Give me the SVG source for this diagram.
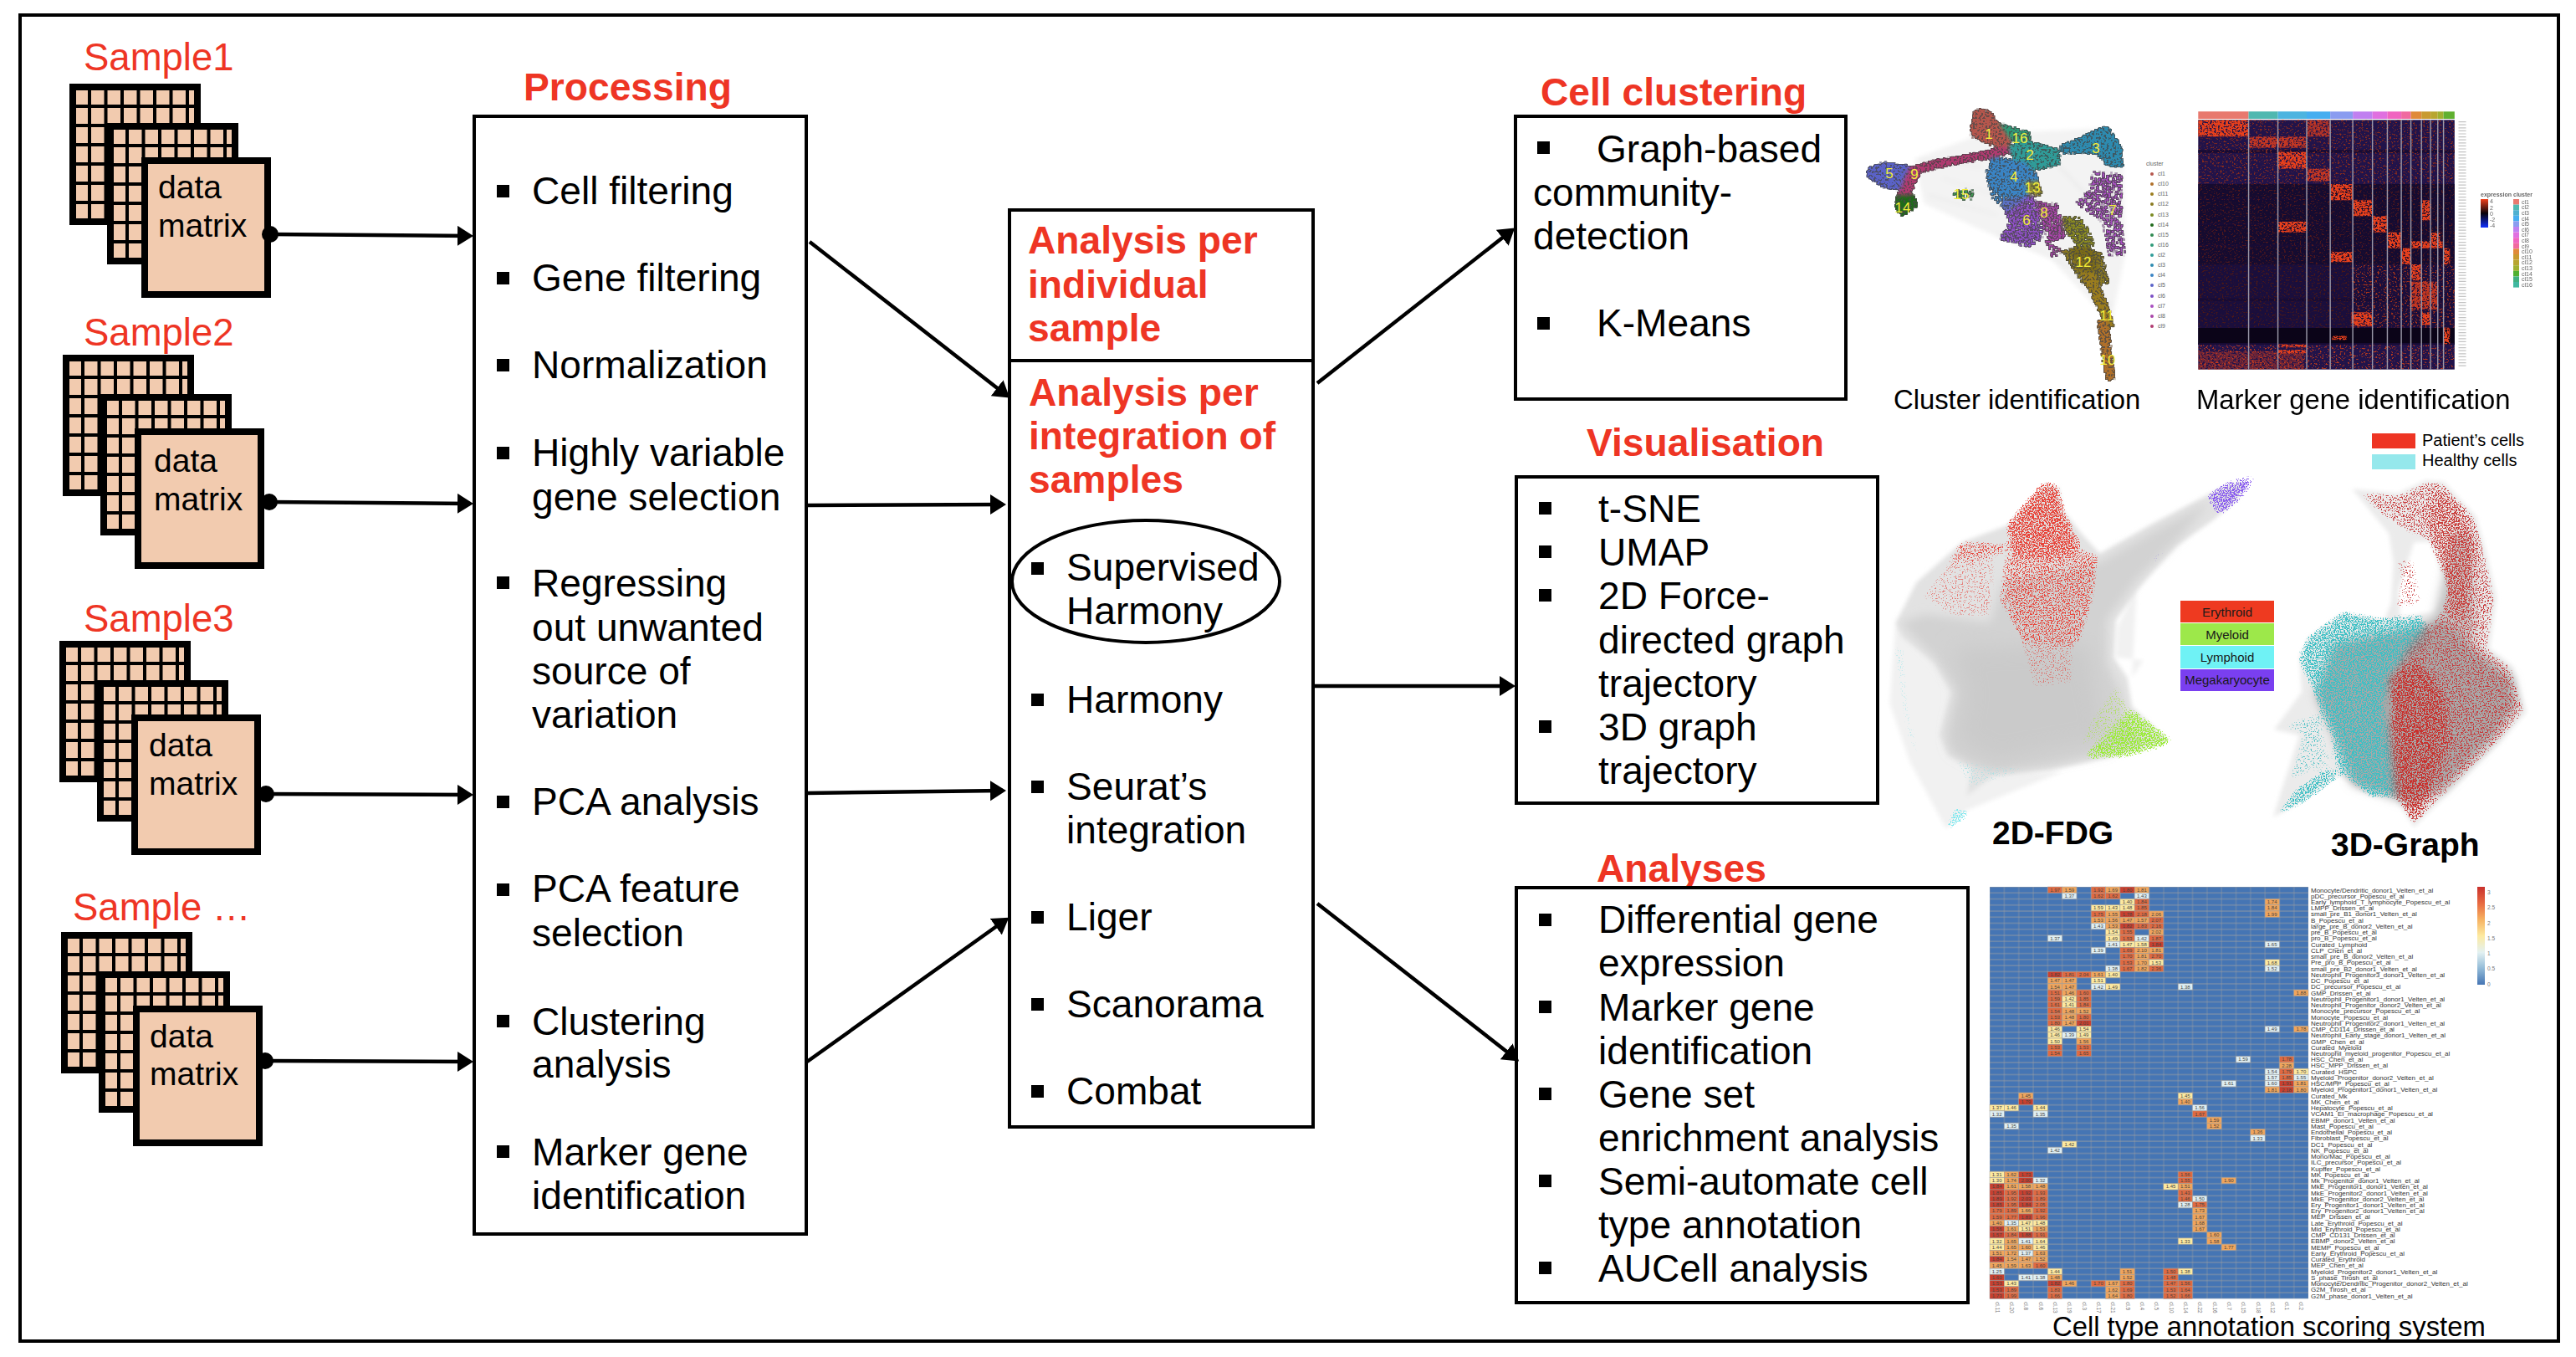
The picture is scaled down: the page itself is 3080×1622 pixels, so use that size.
<svg xmlns="http://www.w3.org/2000/svg" width="3080" height="1622" viewBox="0 0 3080 1622">
<style>
text{font-family:"Liberation Sans",Arial,sans-serif;fill:#000}
.t{font-size:46.1px}
.d{font-size:39px}
.s{font-size:45.5px;fill:#ee3524}
.h{font-size:46.2px;font-weight:bold;fill:#ee3524}
.cap{font-size:32.8px}
.box{fill:#fff;stroke:#000;stroke-width:4}
.b{width:15px;height:15px;fill:#000}
.pk{fill:#f2cbaf;stroke:#000;stroke-width:8}
.ln{fill:none;stroke:#000;stroke-width:4}
.c{stroke:#000;stroke-width:4.5;fill:none}
.bd{font-size:39px;font-weight:bold}
.lg{font-size:15px;text-anchor:middle;fill:#1a1a1a}
.cll{font-size:7px;fill:#666}
.yl{font-size:17px;fill:#f4ee3c;text-anchor:middle}
#hm rect{y:-5.7px;width:17.32px;height:7.24px;stroke:#a0a0a0;stroke-width:.5}
#hm text{font-size:6px;text-anchor:middle;fill:#444}
.r{fill:#c9402f}.o{fill:#e06a41}.a{fill:#f0a55c}.y{fill:#fde9a0}.p{fill:#dfeef2}
.rl{font-size:8px;fill:#333}
.cl{font-size:6.5px;fill:#777}
</style>
<defs>
<marker id="ah" markerUnits="userSpaceOnUse" markerWidth="24" markerHeight="26" refX="15" refY="12" orient="auto"><path d="M0 0L19 12L0 24Z" fill="#000"/></marker>
<g id="pn"><rect class="pk" x="4" y="4" width="149" height="161"/><path d="M24 4V165M43.500 4V165M63 4V165M82.500 4V165M102 4V165M121.500 4V165M141 4V165M4 27H153M4 50H153M4 73H153M4 96H153M4 119H153M4 142H153" fill="none" stroke="#000" stroke-width="4"/></g>
<g id="mx"><use href="#pn"/><use href="#pn" x="45" y="47"/><rect class="pk" x="90" y="92" width="147" height="160"/></g>
<filter id="sp" x="0" y="0" width="100%" height="100%" color-interpolation-filters="sRGB"><feTurbulence type="fractalNoise" baseFrequency=".42 .55" numOctaves="2" seed="5"/><feColorMatrix values="0 0 0 0 0 0 0 0 0 0 0 0 0 0 0 0 0 0 8 -4.6" result="m"/><feComposite in="SourceGraphic" in2="m" operator="in"/><feGaussianBlur stdDeviation=".55"/></filter>
<filter id="dn" x="0" y="0" width="100%" height="100%" color-interpolation-filters="sRGB"><feTurbulence type="fractalNoise" baseFrequency=".42 .55" numOctaves="2" seed="9"/><feColorMatrix values="0 0 0 0 0 0 0 0 0 0 0 0 0 0 0 0 0 0 8 -3" result="m"/><feComposite in="SourceGraphic" in2="m" operator="in"/><feGaussianBlur stdDeviation=".55"/></filter>
<filter id="sf" x="-3%" y="-3%" width="106%" height="106%" color-interpolation-filters="sRGB"><feGaussianBlur in="SourceGraphic" stdDeviation="5" result="bl"/><feTurbulence type="fractalNoise" baseFrequency=".65" numOctaves="2" seed="7"/><feColorMatrix values="0 0 0 0 1 0 0 0 0 1 0 0 0 0 1 0 0 0 3 -1" result="n"/><feComposite in="bl" in2="n" operator="arithmetic" k1="1"/><feColorMatrix values="1 0 0 0 0 0 1 0 0 0 0 0 1 0 0 0 0 0 10 -3.5"/><feGaussianBlur stdDeviation=".55"/></filter>
<filter id="cf" x="-3%" y="-3%" width="106%" height="106%" color-interpolation-filters="sRGB"><feGaussianBlur in="SourceGraphic" stdDeviation="2.2" result="bl"/><feTurbulence type="fractalNoise" baseFrequency=".42" numOctaves="1" seed="4"/><feColorMatrix values="0 0 0 0 1 0 0 0 0 1 0 0 0 0 1 0 0 0 3 -1" result="n"/><feComposite in="bl" in2="n" operator="arithmetic" k1="1"/><feColorMatrix values="1 0 0 0 0 0 1 0 0 0 0 0 1 0 0 0 0 0 12 -3.4" result="k"/><feMorphology in="k" operator="dilate" radius=".6"/><feColorMatrix values=".35 0 0 0 0 0 .35 0 0 0 0 0 .35 0 0 0 0 0 .8 0" result="o"/><feMerge result="g"><feMergeNode in="o"/><feMergeNode in="k"/></feMerge><feGaussianBlur in="g" stdDeviation=".5"/></filter>
<filter id="g1" x="-5%" y="-5%" width="110%" height="110%"><feGaussianBlur stdDeviation="2.500"/></filter>
<filter id="g2" x="-8%" y="-8%" width="116%" height="116%"><feGaussianBlur stdDeviation="6"/></filter>
<filter id="g3" x="-12%" y="-12%" width="124%" height="124%"><feGaussianBlur stdDeviation="12"/></filter>
<linearGradient id="hc" x1="0" y1="0" x2="0" y2="1"><stop offset="0" stop-color="#c9302c"/><stop offset=".17" stop-color="#e86a41"/><stop offset=".33" stop-color="#f6b060"/><stop offset=".5" stop-color="#fdeaa0"/><stop offset=".67" stop-color="#e3f1f2"/><stop offset=".83" stop-color="#94bcd8"/><stop offset="1" stop-color="#4575b4"/></linearGradient>
<linearGradient id="ex" x1="0" y1="0" x2="0" y2="1"><stop offset="0" stop-color="#f0401c"/><stop offset=".5" stop-color="#080208"/><stop offset="1" stop-color="#1030ff"/></linearGradient>
<pattern id="hp" patternUnits="userSpaceOnUse" x="2379" y="1060" width="17.32" height="7.24"><rect width="17.32" height="7.24" fill="#a0a0a0"/><rect x=".3" y=".4" width="16.800" height="6.500" fill="#4575b4"/></pattern>
</defs>
<rect width="3080" height="1622" fill="#fff"/>
<rect id="frame" x="24" y="18" width="3035" height="1585" fill="#fff" stroke="#000" stroke-width="4"/>

<g id="sample1"><text class="s" x="100" y="84">Sample1</text><use href="#mx" x="83" y="100"/><text class="d" x="189" y="237">data</text><text class="d" x="189" y="283">matrix</text></g>
<g id="sample2"><text class="s" x="100" y="413">Sample2</text><use href="#mx" x="75" y="424"/><text class="d" x="184" y="564">data</text><text class="d" x="184" y="610">matrix</text></g>
<g id="sample3"><text class="s" x="100" y="755">Sample3</text><use href="#mx" x="71" y="766"/><text class="d" x="178" y="904">data</text><text class="d" x="178" y="950">matrix</text></g>
<g id="sample4"><text class="s" x="87" y="1100">Sample …</text><use href="#mx" x="73" y="1114"/><text class="d" x="179" y="1252">data</text><text class="d" x="179" y="1297">matrix</text></g>

<g id="processing">
<text class="h" x="626" y="120">Processing</text>
<rect class="box" x="567" y="139" width="397" height="1336"/>
<rect class="b" x="594" y="221"/><text class="t" x="636" y="244">Cell filtering</text>
<rect class="b" x="594" y="325"/><text class="t" x="636" y="348">Gene filtering</text>
<rect class="b" x="594" y="429"/><text class="t" x="636" y="452">Normalization</text>
<rect class="b" x="594" y="534"/><text class="t" x="636" y="557">Highly variable</text><text class="t" x="636" y="610">gene selection</text>
<rect class="b" x="594" y="689"/><text class="t" x="636" y="713">Regressing</text><text class="t" x="636" y="766">out unwanted</text><text class="t" x="636" y="818">source of</text><text class="t" x="636" y="870">variation</text>
<rect class="b" x="594" y="951"/><text class="t" x="636" y="974">PCA analysis</text>
<rect class="b" x="594" y="1056"/><text class="t" x="636" y="1078">PCA feature</text><text class="t" x="636" y="1131">selection</text>
<rect class="b" x="594" y="1213"/><text class="t" x="636" y="1237">Clustering</text><text class="t" x="636" y="1288">analysis</text>
<rect class="b" x="594" y="1369"/><text class="t" x="636" y="1393">Marker gene</text><text class="t" x="636" y="1445">identification</text>
</g>

<g id="analysis">
<rect class="box" x="1207" y="251" width="363" height="1096"/>
<path class="ln" d="M1207 431H1570"/>
<text class="h" x="1229" y="303">Analysis per</text><text class="h" x="1229" y="356">individual</text><text class="h" x="1229" y="408">sample</text>
<text class="h" x="1230" y="485">Analysis per</text><text class="h" x="1230" y="537">integration of</text><text class="h" x="1230" y="589">samples</text>
<ellipse cx="1370" cy="695" rx="160" ry="73" fill="none" stroke="#000" stroke-width="4"/>
<rect class="b" x="1233" y="672"/><text class="t" x="1275" y="694">Supervised</text><text class="t" x="1275" y="746">Harmony</text>
<rect class="b" x="1233" y="829"/><text class="t" x="1275" y="852">Harmony</text>
<rect class="b" x="1233" y="933"/><text class="t" x="1275" y="956">Seurat’s</text><text class="t" x="1275" y="1008">integration</text>
<rect class="b" x="1233" y="1089"/><text class="t" x="1275" y="1112">Liger</text>
<rect class="b" x="1233" y="1193"/><text class="t" x="1275" y="1216">Scanorama</text>
<rect class="b" x="1233" y="1297"/><text class="t" x="1275" y="1320">Combat</text>
</g>

<g id="clustering">
<text class="h" x="1842" y="126">Cell clustering</text>
<rect class="box" x="1812" y="139" width="395" height="338"/>
<rect class="b" x="1838" y="169"/><text class="t" x="1909" y="194">Graph-based</text><text class="t" x="1833" y="246">community-</text><text class="t" x="1833" y="298">detection</text>
<rect class="b" x="1838" y="379"/><text class="t" x="1909" y="402">K-Means</text>
</g>
<g id="visualisation">
<text class="h" x="1897" y="545">Visualisation</text>
<rect class="box" x="1813" y="570" width="432" height="390"/>
<rect class="b" x="1840" y="600"/><text class="t" x="1911" y="624">t-SNE</text>
<rect class="b" x="1840" y="652"/><text class="t" x="1911" y="676">UMAP</text>
<rect class="b" x="1840" y="704"/><text class="t" x="1911" y="728">2D Force-</text><text class="t" x="1911" y="781">directed graph</text><text class="t" x="1911" y="833">trajectory</text>
<rect class="b" x="1840" y="861"/><text class="t" x="1911" y="885">3D graph</text><text class="t" x="1911" y="937">trajectory</text>
</g>
<g id="analyses">
<text class="h" x="1909" y="1054">Analyses</text>
<rect class="box" x="1813" y="1061" width="540" height="496"/>
<rect class="b" x="1840" y="1092"/><text class="t" x="1911" y="1115">Differential gene</text><text class="t" x="1911" y="1167">expression</text>
<rect class="b" x="1840" y="1196"/><text class="t" x="1911" y="1220">Marker gene</text><text class="t" x="1911" y="1272">identification</text>
<rect class="b" x="1840" y="1300"/><text class="t" x="1911" y="1324">Gene set</text><text class="t" x="1911" y="1376">enrichment analysis</text>
<rect class="b" x="1840" y="1404"/><text class="t" x="1911" y="1428">Semi-automate cell</text><text class="t" x="1911" y="1480">type annotation</text>
<rect class="b" x="1840" y="1508"/><text class="t" x="1911" y="1532">AUCell analysis</text>
</g>

<g id="connectors">
<circle cx="323" cy="280" r="10"/><path class="c" marker-end="url(#ah)" d="M323 280L562 282"/>
<circle cx="322" cy="600" r="10"/><path class="c" marker-end="url(#ah)" d="M322 600L562 602"/>
<circle cx="318" cy="949" r="10"/><path class="c" marker-end="url(#ah)" d="M318 949L562 950"/>
<circle cx="317" cy="1268" r="10"/><path class="c" marker-end="url(#ah)" d="M317 1268L562 1269"/>
<path class="c" marker-end="url(#ah)" d="M968 289L1204 473"/>
<path class="c" marker-end="url(#ah)" d="M965 604L1199 603"/>
<path class="c" marker-end="url(#ah)" d="M965 948L1199 945"/>
<path class="c" marker-end="url(#ah)" d="M965 1269L1203 1099"/>
<path class="c" marker-end="url(#ah)" d="M1575 458L1808 275"/>
<path class="c" marker-end="url(#ah)" d="M1571 820L1808 820"/>
<path class="c" marker-end="url(#ah)" d="M1575 1080L1813 1266"/>
</g>

<g id="cluster-plot">
<g filter="url(#g1)"><g transform="translate(2180,100) scale(.574,.3333)"><path d="M190 270L330 180L590 160L625 300L630 600L600 860L470 620L350 540L210 430Z" fill="#f3f3f3"/><path d="M200 270L330 300M220 400L360 470M250 340L360 400M460 240L560 420M500 600L600 800M590 300L610 620M360 540L520 660" stroke="#e4e4e4" stroke-width="3" fill="none"/></g></g>
<g filter="url(#cf)"><g transform="translate(2180,100) scale(.574,.3333)">
<g fill-opacity=".6"><path fill="#8f50c8" d="M365 560L385 500L370 420L440 400L460 550L430 590Z"/><path fill="#a845a8" d="M440 420L490 430L505 560L470 570Z"/><path fill="#8a8a20" d="M500 470L540 480L570 580L530 590L500 520Z"/><path fill="#8a7a20" d="M490 590L580 600L600 720L540 720Z"/></g>
<g fill-opacity=".46"><path fill="#a84fc0" d="M560 310L625 320L625 500L632 620L590 620L580 500L520 430L550 380Z"/><path fill="#3c9a50" d="M260 380L320 370L310 430L270 410Z"/><path fill="#3a84c4" d="M335 300L430 400L385 460L350 420Z"/><path fill="#a845a8" d="M450 550L500 590L480 640Z"/></g>
<path fill="#b5564c" d="M315 95Q335 85 350 105L390 205L385 235L340 215L305 185Z"/><path fill="#2f9a78" d="M365 140L430 175L430 215L395 210Z"/><path fill="#2f9c98" d="M385 225L420 205L490 235L495 290L440 310L400 280Z"/><path fill="#2d8bb0" d="M490 225L540 190L590 150L620 220L625 300L590 290L570 250L500 250Z"/><path fill="#3a84c4" d="M345 310L350 265L420 280L450 340L420 400L370 400L345 360Z"/><path fill="#5a62c8" d="M88 330Q95 285 130 283L180 295L190 355L165 380L130 375Z"/><path fill="none" stroke="#b03a70" stroke-width="26" d="M165 420Q175 370 190 310Q240 285 290 270Q340 260 385 235"/><path fill="#1f6a1a" d="M155 400L190 400L195 440L165 475L150 450Z"/><path fill="#8f8a30" d="M420 350L450 350L455 400L430 400Z"/><path fill="#7a6a18" d="M515 590L560 590L570 660L545 700Z"/><path fill="#9b7d1e" d="M535 670L565 680L600 830L605 875L590 875L570 800Z"/><path fill="#b0702a" d="M572 850L592 850L607 1065L588 1065Z"/>
</g></g>
<text class="yl" x="2378" y="166">1</text><text class="yl" x="2415" y="171">16</text><text class="yl" x="2427" y="191">2</text><text class="yl" x="2506" y="183">3</text><text class="yl" x="2259" y="213">5</text><text class="yl" x="2289" y="214">9</text><text class="yl" x="2408" y="217">4</text><text class="yl" x="2430" y="230">13</text><text class="yl" x="2345" y="238">15</text><text class="yl" x="2275" y="254">14</text><text class="yl" x="2444" y="260">8</text><text class="yl" x="2526" y="257">7</text><text class="yl" x="2423" y="269">6</text><text class="yl" x="2491" y="319">12</text><text class="yl" x="2519" y="383">11</text><text class="yl" x="2520" y="436">10</text>
<text class="cll" x="2566" y="198">cluster</text>
<g><circle cx="2573" cy="208" r="2" fill="#b5564c"/><text class="cll" x="2580" y="210">cl1</text><circle cx="2573" cy="220" r="2" fill="#b0702a"/><text class="cll" x="2580" y="222">cl10</text><circle cx="2573" cy="232" r="2" fill="#9b7d1e"/><text class="cll" x="2580" y="234">cl11</text><circle cx="2573" cy="244" r="2" fill="#8a7a20"/><text class="cll" x="2580" y="246">cl12</text><circle cx="2573" cy="257" r="2" fill="#7a8a20"/><text class="cll" x="2580" y="259">cl13</text><circle cx="2573" cy="269" r="2" fill="#1f6a1a"/><text class="cll" x="2580" y="271">cl14</text><circle cx="2573" cy="281" r="2" fill="#2f8a50"/><text class="cll" x="2580" y="283">cl15</text><circle cx="2573" cy="293" r="2" fill="#2f9a78"/><text class="cll" x="2580" y="295">cl16</text><circle cx="2573" cy="305" r="2" fill="#2f9c98"/><text class="cll" x="2580" y="307">cl2</text><circle cx="2573" cy="317" r="2" fill="#2d8bb0"/><text class="cll" x="2580" y="319">cl3</text><circle cx="2573" cy="329" r="2" fill="#3a84c4"/><text class="cll" x="2580" y="331">cl4</text><circle cx="2573" cy="341" r="2" fill="#5a62c8"/><text class="cll" x="2580" y="343">cl5</text><circle cx="2573" cy="354" r="2" fill="#7a4fc4"/><text class="cll" x="2580" y="356">cl6</text><circle cx="2573" cy="366" r="2" fill="#a84fc0"/><text class="cll" x="2580" y="368">cl7</text><circle cx="2573" cy="378" r="2" fill="#a845a8"/><text class="cll" x="2580" y="380">cl8</text><circle cx="2573" cy="390" r="2" fill="#b03a70"/><text class="cll" x="2580" y="392">cl9</text></g>
<text class="cap" x="2264" y="489">Cluster identification</text>
</g>

<g id="marker-heatmap">
<g transform="translate(2180,100) scale(.574,.3333)">
<rect x="781" y="130" width="534" height="895" fill="#21134a"/>
<rect x="781" y="360" width="534" height="290" fill="#150b30"/>
<rect x="781" y="650" width="534" height="225" fill="#1a0e3c"/>
<rect x="781" y="876" width="534" height="60" fill="#0b0418"/>
<path fill="#170b34" d="M781 238h534v10H781zM781 410h534v8H781zM781 498h534v10H781zM781 575h534v10H781zM781 770h534v10H781zM781 930h534v6H781z"/>
<path fill="#e8796e" d="M781 100h105v26h-105z"/><path fill="#4fb8b0" d="M886 100h61v26h-61z"/><path fill="#4db4e0" d="M947 100h60v26h-60z"/><path fill="#46aef0" d="M1007 100h49v26h-49z"/><path fill="#8a9cf0" d="M1056 100h47v26h-47z"/><path fill="#c080f0" d="M1103 100h41v26h-41z"/><path fill="#e070e0" d="M1144 100h31v26h-31z"/><path fill="#f065c0" d="M1175 100h29v26h-29z"/><path fill="#f06aa0" d="M1204 100h20v26h-20z"/><path fill="#e08a3a" d="M1224 100h22v26h-22z"/><path fill="#c89a30" d="M1246 100h19v26h-19z"/><path fill="#b8a530" d="M1265 100h15v26h-15z"/><path fill="#a0b030" d="M1280 100h12v26h-12z"/><path fill="#60b030" d="M1292 100h23v26h-23z"/>
</g>
<g filter="url(#sp)"><g transform="translate(2180,100) scale(.574,.3333)">
<rect x="781" y="130" width="534" height="230" fill="#8a2c1c"/><rect x="781" y="360" width="534" height="290" fill="#52181c"/><rect x="1100" y="650" width="215" height="225" fill="#a83418"/><rect x="781" y="650" width="319" height="225" fill="#4a1818"/><rect x="781" y="936" width="534" height="89" fill="#b83a1c"/>
</g></g>
<g filter="url(#dn)"><g transform="translate(2180,100) scale(.574,.3333)" fill="#e8401c">
<rect x="781" y="130" width="105" height="60"/><rect x="886" y="190" width="120" height="40" opacity=".8"/><rect x="1007" y="130" width="49" height="60" opacity=".7"/><rect x="947" y="245" width="60" height="60"/><rect x="1007" y="305" width="49" height="45" opacity=".8"/><rect x="1056" y="360" width="47" height="58"/><rect x="1103" y="418" width="41" height="57"/><rect x="1144" y="475" width="31" height="58"/><rect x="1175" y="533" width="29" height="57"/><rect x="1204" y="590" width="20" height="58"/><rect x="1056" y="603" width="47" height="37"/><rect x="947" y="495" width="60" height="38"/><rect x="1224" y="648" width="22" height="57"/><rect x="1246" y="418" width="19" height="72"/><rect x="1224" y="565" width="66" height="25"/><rect x="1265" y="535" width="20" height="30"/><rect x="1292" y="590" width="13" height="58"/><rect x="1224" y="710" width="56" height="100" opacity=".8"/><rect x="1100" y="820" width="44" height="50"/><rect x="1246" y="820" width="19" height="45"/><rect x="1292" y="876" width="13" height="58"/><rect x="947" y="935" width="60" height="10"/><rect x="947" y="955" width="60" height="13"/><rect x="781" y="960" width="220" height="65" opacity=".4"/><rect x="1060" y="905" width="30" height="14"/>
</g></g>
<g transform="translate(2180,100) scale(.574,.3333)"><path d="M886 130V1025M947 130V1025M1007 130V1025M1056 130V1025M1103 130V1025M1144 130V1025M1175 130V1025M1204 130V1025M1224 130V1025M1246 130V1025M1265 130V1025M1280 130V1025M1292 130V1025" stroke="#9a98a8" stroke-width="2.500" fill="none"/></g>
<path d="M2944 145V440" stroke="#c4c4c4" stroke-width="9" stroke-dasharray="1.200 2.400"/>
<text class="cll" x="2966" y="235" style="font-weight:bold">expression</text><text class="cll" x="3005" y="235" style="font-weight:bold">cluster</text>
<rect x="2966" y="238" width="9" height="34" fill="url(#ex)"/><text class="cll" x="2977" y="243">4</text><text class="cll" x="2977" y="251">2</text><text class="cll" x="2977" y="258">0</text><text class="cll" x="2977" y="265">-2</text><text class="cll" x="2977" y="272">-4</text>
<path fill="#e8796e" d="M3005 238h7v6.600h-7z"/><path fill="#4fb8b0" d="M3005 244.600h7v6.600h-7z"/><path fill="#4fb0d0" d="M3005 251.200h7v6.600h-7z"/><path fill="#46aef0" d="M3005 257.800h7v6.600h-7z"/><path fill="#8a9cf0" d="M3005 264.400h7v6.600h-7z"/><path fill="#c080f0" d="M3005 271h7v6.600h-7z"/><path fill="#e070e0" d="M3005 277.600h7v6.600h-7z"/><path fill="#f065c0" d="M3005 284.200h7v6.600h-7z"/><path fill="#f06aa0" d="M3005 290.800h7v6.600h-7z"/><path fill="#e08a3a" d="M3005 297.400h7v6.600h-7z"/><path fill="#c89a30" d="M3005 304h7v6.600h-7z"/><path fill="#b8a530" d="M3005 310.600h7v6.600h-7z"/><path fill="#a0b030" d="M3005 317.200h7v6.600h-7z"/><path fill="#50b030" d="M3005 323.800h7v6.600h-7z"/><path fill="#40b080" d="M3005 330.400h7v6.600h-7z"/><path fill="#40b8a0" d="M3005 337h7v6.600h-7z"/>
<text class="cll" x="3015" y="244">cl1</text><text class="cll" x="3015" y="250">cl2</text><text class="cll" x="3015" y="257">cl3</text><text class="cll" x="3015" y="264">cl4</text><text class="cll" x="3015" y="270">cl5</text><text class="cll" x="3015" y="277">cl6</text><text class="cll" x="3015" y="283">cl7</text><text class="cll" x="3015" y="290">cl8</text><text class="cll" x="3015" y="297">cl9</text><text class="cll" x="3015" y="303">cl10</text><text class="cll" x="3015" y="310">cl11</text><text class="cll" x="3015" y="316">cl12</text><text class="cll" x="3015" y="323">cl13</text><text class="cll" x="3015" y="330">cl14</text><text class="cll" x="3015" y="336">cl15</text><text class="cll" x="3015" y="343">cl16</text>
<text class="cap" x="2626" y="489">Marker gene identification</text>
</g>

<g id="fdg">
<g filter="url(#g1)"><g transform="translate(2220,500) scale(.5485,.3444)">
<path fill="#f1f1f1" d="M85 700L72 990L115 1190L195 1425L240 1360L450 1225L300 1240L205 950L170 850ZM640 540L600 620L570 720L565 830L625 840L600 900L610 600L700 440Z"/>
<path fill="#e2e2e2" d="M410 230L440 240L450 320L490 400L530 470L640 370L760 270L810 230L850 220L830 280L780 350L700 440L640 540L600 620L565 700L560 830L590 900L600 1000L680 1120L570 1170L420 1220L300 1240L240 1310L250 1210L200 1170L180 1100L205 950L170 850L100 760L85 710L130 570L230 430L330 370Z"/>
</g></g>
<g filter="url(#g2)"><g transform="translate(2220,500) scale(.5485,.3444)"><path fill="#d2d2d2" d="M95 710L150 680L290 710L320 560L530 500L650 390L770 290L700 420L610 560L545 700L545 850L575 950L590 1060L630 1130L420 1205L300 1225L250 1200L205 1160L195 1100L220 950L170 830Z"/></g></g>
<g filter="url(#g3)"><g transform="translate(2220,500) scale(.5485,.3444)"><path fill="#cacaca" d="M210 800L500 780L530 1000L540 1120L300 1190L220 1120L240 950Z"/></g></g>
<g filter="url(#sf)"><g transform="translate(2220,500) scale(.5485,.3444)">
<path fill="#e8443a" fill-opacity=".9" d="M405 220L440 230L455 330L490 440L440 480L340 480L325 370Z"/>
<path fill="#e8443a" fill-opacity=".6" d="M320 480L490 450L530 470L520 620L490 780L360 780L310 640Z"/>
<path fill="#e4504a" fill-opacity=".42" d="M350 780L480 780L480 930L380 950Z"/>
<path fill="#e8443a" fill-opacity=".6" d="M225 420L330 430L330 470L200 490Z"/><path fill="#e8504a" fill-opacity=".42" d="M200 480L310 480L300 700L200 700L130 620Z"/>
<path fill="#8a5cf0" fill-opacity=".9" d="M875 195L810 220L760 270L790 340L835 285Z"/><path fill="#a090e0" fill-opacity=".42" d="M760 330L700 430L620 590L640 470Z"/>
<path fill="#9cec3a" d="M695 1125L600 1010L540 1110L490 1180L590 1175Z"/><path fill="#b0e060" fill-opacity=".45" d="M570 900L600 1000L540 1100L470 1170L500 1050Z"/>
<path fill="#80e8ee" d="M190 1440L215 1350L250 1370Z"/><path fill="#a0e0e4" fill-opacity=".42" d="M200 1170L420 1210L240 1300Z"/><path fill="#a0e8ec" fill-opacity=".42" d="M70 780L110 780L120 1000L170 1320L100 1100Z"/>
</g></g>
<text class="bd" x="2382" y="1009">2D-FDG</text>
</g>

<g id="lineage-legend">
<rect x="2607" y="718" width="112" height="26" fill="#ee3a20"/><rect x="2607" y="745" width="112" height="26" fill="#9de84a"/><rect x="2607" y="772" width="112" height="27" fill="#6ff2f5"/><rect x="2607" y="800" width="112" height="26" fill="#7a3ff0"/>
<text class="lg" x="2663" y="737">Erythroid</text><text class="lg" x="2663" y="764">Myeloid</text><text class="lg" x="2663" y="791">Lymphoid</text><text class="lg" x="2663" y="818">Megakaryocyte</text>
</g>

<g id="graph3d">
<g filter="url(#g1)"><g transform="translate(2220,500) scale(.5485,.3444)">
<path fill="#ebebeb" d="M1080 245L1180 260L1240 215L1280 220L1350 340L1375 480L1395 620L1380 800L1430 860L1460 1020L1400 1130L1290 1300L1215 1420L1170 1310L1120 1310L1050 1240L980 1320L908 1385L930 1270L965 1100L910 1080L970 950L965 830L985 760L1060 675L1150 700L1165 640L1170 500L1160 400Z"/>
<path fill="#fff" d="M1180 600L1185 690L1260 670L1290 600L1250 430L1215 430Z"/>
</g></g>
<g filter="url(#g2)"><g transform="translate(2220,500) scale(.5485,.3444)"><path fill="#a8a8a8" d="M1040 780L1230 720L1280 680L1350 800L1430 900L1440 1000L1390 1110L1280 1290L1210 1340L1080 1270L1040 1100L1000 960Z"/><path fill="#c4c4c4" d="M1260 680L1300 400L1340 400L1350 780Z"/></g></g>
<g filter="url(#sf)"><g transform="translate(2220,500) scale(.5485,.3444)">
<path fill="#3dc0c4" fill-opacity=".85" d="M960 830L985 755L1060 670L1150 695L1235 680L1245 770L1165 880L1150 1000L1170 1200L1185 1315L1120 1315L1050 1225L1035 1100L995 950Z"/><path fill="#3dc0c4" fill-opacity=".85" d="M905 1390L960 1285L1030 1215L1055 1240L985 1325Z"/><path fill="#56c4c8" fill-opacity=".45" d="M910 1080L950 1040L1010 1010L1040 1200L930 1280L965 1100Z"/>
<path fill="#c8383a" fill-opacity=".55" d="M1080 245L1180 260L1240 215L1280 220L1350 340L1375 480L1395 620L1380 800L1430 860L1460 1020L1400 1130L1290 1300L1215 1420L1170 1310L1160 1100L1170 900L1200 800L1260 690L1290 600L1240 420L1210 410L1150 350Z"/><path fill="#c8383a" fill-opacity=".45" d="M1165 480L1180 560L1165 680L1240 650L1220 480Z"/>
<path fill="#c9302c" fill-opacity=".8" d="M1160 900L1220 840L1280 960L1290 1130L1260 1250L1215 1400L1180 1300Z"/><path fill="#c9403c" fill-opacity=".6" d="M1260 240L1320 320L1350 420L1340 540L1330 700L1290 680L1280 500L1240 340Z"/>
</g></g>
<text class="bd" x="2787" y="1023">3D-Graph</text>
</g>

<g id="patient-legend">
<rect x="2836" y="518" width="52" height="18" fill="#ee3524"/><rect x="2836" y="543" width="52" height="18" fill="#95e8ec"/>
<text x="2896" y="533" style="font-size:20px">Patient’s cells</text><text x="2896" y="557" style="font-size:20px">Healthy cells</text>
</g>

<g id="score-heatmap">
<rect x="2379" y="1060" width="381" height="492.300" fill="url(#hp)"/>
<g id="hm" transform="translate(2379,1065.700)">
<g><rect class="o" x="69.3"/><text x="78">1.97</text><rect class="a" x="86.6"/><text x="95.3">1.59</text><rect class="o" x="121.200"/><text x="129.900">1.92</text><rect class="a" x="138.600"/><text x="147.200">1.69</text><rect class="r" x="155.900"/><text x="164.500">1.80</text><rect class="a" x="173.200"/><text x="181.900">1.81</text></g>
<g transform="translate(0,7.24)"><rect class="p" x="86.6"/><text x="95.3">1.37</text><rect class="o" x="121.200"/><text x="129.900">1.62</text><rect class="o" x="138.600"/><text x="147.200">1.62</text><rect class="p" x="173.200"/><text x="181.900">1.43</text></g>
<g transform="translate(0,14.48)"><rect class="y" x="155.900"/><text x="164.500">1.40</text><rect class="o" x="173.200"/><text x="181.900">1.84</text><rect class="a" x="329.100"/><text x="337.700">1.74</text></g>
<g transform="translate(0,21.72)"><rect class="y" x="121.200"/><text x="129.900">1.59</text><rect class="y" x="138.600"/><text x="147.200">1.43</text><rect class="y" x="155.900"/><text x="164.500">1.48</text><rect class="o" x="173.200"/><text x="181.900">1.85</text><rect class="a" x="329.100"/><text x="337.700">1.84</text></g>
<g transform="translate(0,28.96)"><rect class="o" x="121.200"/><text x="129.900">1.75</text><rect class="a" x="138.600"/><text x="147.200">1.55</text><rect class="r" x="155.900"/><text x="164.500">1.78</text><rect class="o" x="173.200"/><text x="181.900">2.18</text><rect class="a" x="190.500"/><text x="199.200">2.06</text><rect class="a" x="329.100"/><text x="337.700">1.99</text></g>
<g transform="translate(0,36.2)"><rect class="a" x="121.200"/><text x="129.900">1.53</text><rect class="a" x="138.600"/><text x="147.200">1.56</text><rect class="a" x="155.900"/><text x="164.500">1.47</text><rect class="a" x="173.200"/><text x="181.900">1.57</text><rect class="o" x="190.500"/><text x="199.200">2.07</text></g>
<g transform="translate(0,43.44)"><rect class="p" x="121.200"/><text x="129.900">1.43</text><rect class="a" x="138.600"/><text x="147.200">1.53</text><rect class="r" x="155.900"/><text x="164.500">1.82</text><rect class="o" x="173.200"/><text x="181.900">1.83</text><rect class="o" x="190.500"/><text x="199.200">2.16</text></g>
<g transform="translate(0,50.68)"><rect class="y" x="138.600"/><text x="147.200">1.54</text><rect class="o" x="155.900"/><text x="164.500">1.55</text><rect class="a" x="190.500"/><text x="199.200">2.02</text></g>
<g transform="translate(0,57.92)"><rect class="p" x="69.3"/><text x="78">1.37</text><rect class="y" x="138.600"/><text x="147.200">1.49</text><rect class="o" x="155.900"/><text x="164.500">1.53</text><rect class="p" x="173.200"/><text x="181.900">1.42</text><rect class="o" x="190.500"/><text x="199.200">1.87</text></g>
<g transform="translate(0,65.16)"><rect class="p" x="138.600"/><text x="147.200">1.41</text><rect class="y" x="155.900"/><text x="164.500">1.47</text><rect class="y" x="173.200"/><text x="181.900">1.58</text><rect class="r" x="190.500"/><text x="199.200">1.84</text><rect class="p" x="329.100"/><text x="337.700">1.65</text></g>
<g transform="translate(0,72.4)"><rect class="p" x="121.200"/><text x="129.900">1.39</text><rect class="o" x="155.900"/><text x="164.500">1.69</text><rect class="a" x="173.200"/><text x="181.900">2.10</text><rect class="a" x="190.500"/><text x="199.200">1.81</text></g>
<g transform="translate(0,79.64)"><rect class="o" x="155.900"/><text x="164.500">1.70</text><rect class="a" x="173.200"/><text x="181.900">1.81</text><rect class="o" x="190.500"/><text x="199.200">2.70</text></g>
<g transform="translate(0,86.88)"><rect class="o" x="155.900"/><text x="164.500">1.53</text><rect class="a" x="173.200"/><text x="181.900">1.70</text><rect class="y" x="190.500"/><text x="199.200">1.53</text><rect class="y" x="329.100"/><text x="337.700">1.68</text></g>
<g transform="translate(0,94.12)"><rect class="p" x="138.600"/><text x="147.200">1.38</text><rect class="o" x="155.900"/><text x="164.500">1.67</text><rect class="a" x="173.200"/><text x="181.900">1.82</text><rect class="o" x="190.500"/><text x="199.200">2.36</text><rect class="p" x="329.100"/><text x="337.700">1.52</text></g>
<g transform="translate(0,101.36)"><rect class="r" x="69.3"/><text x="78">1.82</text><rect class="o" x="86.6"/><text x="95.3">1.81</text><rect class="o" x="103.900"/><text x="112.600">2.04</text><rect class="a" x="121.200"/><text x="129.900">1.61</text><rect class="y" x="138.600"/><text x="147.200">1.40</text></g>
<g transform="translate(0,108.6)"><rect class="a" x="69.3"/><text x="78">1.47</text><rect class="a" x="86.6"/><text x="95.3">1.47</text><rect class="y" x="121.200"/><text x="129.900">1.51</text></g>
<g transform="translate(0,115.84)"><rect class="a" x="69.3"/><text x="78">1.54</text><rect class="a" x="86.6"/><text x="95.3">1.47</text><rect class="p" x="121.200"/><text x="129.900">1.42</text><rect class="y" x="138.600"/><text x="147.200">1.49</text><rect class="p" x="225.200"/><text x="233.800">1.38</text></g>
<g transform="translate(0,123.08)"><rect class="o" x="69.3"/><text x="78">1.51</text><rect class="a" x="86.6"/><text x="95.3">1.46</text><rect class="o" x="103.900"/><text x="112.600">1.60</text><rect class="a" x="363.700"/><text x="372.400">1.88</text></g>
<g transform="translate(0,130.32)"><rect class="o" x="69.3"/><text x="78">1.59</text><rect class="y" x="86.6"/><text x="95.3">1.42</text><rect class="o" x="103.900"/><text x="112.600">1.85</text></g>
<g transform="translate(0,137.56)"><rect class="o" x="69.3"/><text x="78">1.61</text><rect class="y" x="86.6"/><text x="95.3">1.41</text><rect class="o" x="103.900"/><text x="112.600">1.84</text></g>
<g transform="translate(0,144.8)"><rect class="o" x="69.3"/><text x="78">1.54</text><rect class="a" x="86.6"/><text x="95.3">1.48</text><rect class="a" x="103.900"/><text x="112.600">1.52</text></g>
<g transform="translate(0,152.04)"><rect class="o" x="69.3"/><text x="78">1.53</text><rect class="a" x="86.6"/><text x="95.3">1.48</text><rect class="o" x="103.900"/><text x="112.600">1.80</text></g>
<g transform="translate(0,159.28)"><rect class="o" x="69.3"/><text x="78">1.80</text><rect class="a" x="86.6"/><text x="95.3">1.47</text><rect class="r" x="103.900"/><text x="112.600">2.01</text></g>
<g transform="translate(0,166.52)"><rect class="y" x="69.3"/><text x="78">1.46</text><rect class="y" x="103.900"/><text x="112.600">1.54</text><rect class="p" x="329.100"/><text x="337.700">1.49</text><rect class="a" x="363.700"/><text x="372.400">1.78</text></g>
<g transform="translate(0,173.76)"><rect class="y" x="69.3"/><text x="78">1.46</text><rect class="p" x="86.6"/><text x="95.3">1.39</text><rect class="y" x="103.900"/><text x="112.600">1.49</text></g>
<g transform="translate(0,181)"><rect class="y" x="69.3"/><text x="78">1.50</text><rect class="a" x="103.900"/><text x="112.600">1.56</text></g>
<g transform="translate(0,188.24)"><rect class="o" x="69.3"/><text x="78">1.53</text><rect class="o" x="103.900"/><text x="112.600">1.53</text></g>
<g transform="translate(0,195.48)"><rect class="o" x="69.3"/><text x="78">1.54</text><rect class="o" x="103.900"/><text x="112.600">1.65</text></g>
<g transform="translate(0,202.72)"><rect class="p" x="294.400"/><text x="303.100">1.59</text><rect class="o" x="346.400"/><text x="355.100">1.78</text></g>
<g transform="translate(0,209.96)"><rect class="a" x="346.400"/><text x="355.100">2.28</text></g>
<g transform="translate(0,217.2)"><rect class="p" x="329.100"/><text x="337.700">1.54</text><rect class="o" x="346.400"/><text x="355.100">1.79</text><rect class="y" x="363.700"/><text x="372.400">1.70</text></g>
<g transform="translate(0,224.44)"><rect class="p" x="329.100"/><text x="337.700">1.57</text><rect class="o" x="346.400"/><text x="355.100">1.85</text><rect class="p" x="363.700"/><text x="372.400">1.55</text></g>
<g transform="translate(0,231.68)"><rect class="p" x="277.100"/><text x="285.800">1.61</text><rect class="p" x="329.100"/><text x="337.700">1.60</text><rect class="r" x="346.400"/><text x="355.100">1.91</text><rect class="a" x="363.700"/><text x="372.400">1.81</text></g>
<g transform="translate(0,238.92)"><rect class="a" x="329.100"/><text x="337.700">1.81</text><rect class="r" x="346.400"/><text x="355.100">2.18</text><rect class="a" x="363.700"/><text x="372.400">1.80</text></g>
<g transform="translate(0,246.16)"><rect class="a" x="34.600"/><text x="43.300">1.45</text><rect class="y" x="225.200"/><text x="233.800">1.45</text></g>
<g transform="translate(0,253.4)"><rect class="r" x="34.600"/><text x="43.300">1.79</text><rect class="a" x="225.200"/><text x="233.800">1.40</text></g>
<g transform="translate(0,260.64)"><rect class="y" x="0"/><text x="8.700">1.37</text><rect class="y" x="17.300"/><text x="26">1.46</text><rect class="y" x="52"/><text x="60.600">1.44</text><rect class="p" x="242.500"/><text x="251.100">1.56</text></g>
<g transform="translate(0,267.88)"><rect class="p" x="0"/><text x="8.700">1.32</text><rect class="p" x="52"/><text x="60.600">1.35</text><rect class="o" x="242.500"/><text x="251.100">1.67</text></g>
<g transform="translate(0,275.12)"><rect class="a" x="259.800"/><text x="268.500">1.59</text></g>
<g transform="translate(0,282.36)"><rect class="p" x="17.300"/><text x="26">1.35</text><rect class="a" x="259.800"/><text x="268.500">1.52</text></g>
<g transform="translate(0,289.6)"><rect class="a" x="311.800"/><text x="320.400">1.36</text></g>
<g transform="translate(0,296.84)"><rect class="p" x="311.800"/><text x="320.400">1.33</text></g>
<g transform="translate(0,304.08)"><rect class="y" x="86.6"/><text x="95.3">1.42</text></g>
<g transform="translate(0,311.32)"><rect class="p" x="69.3"/><text x="78">1.42</text></g>
<g transform="translate(0,340.28)"><rect class="y" x="0"/><text x="8.700">1.31</text><rect class="a" x="17.300"/><text x="26">1.62</text><rect class="r" x="34.600"/><text x="43.300">1.73</text><rect class="o" x="225.200"/><text x="233.800">1.56</text></g>
<g transform="translate(0,347.52)"><rect class="y" x="0"/><text x="8.700">1.30</text><rect class="a" x="17.300"/><text x="26">1.74</text><rect class="r" x="34.600"/><text x="43.300">2.00</text><rect class="p" x="52"/><text x="60.600">1.32</text><rect class="o" x="225.200"/><text x="233.800">1.55</text><rect class="a" x="277.100"/><text x="285.800">1.90</text></g>
<g transform="translate(0,354.76)"><rect class="r" x="0"/><text x="8.700">1.84</text><rect class="a" x="17.300"/><text x="26">1.61</text><rect class="a" x="34.600"/><text x="43.300">1.58</text><rect class="a" x="52"/><text x="60.600">1.48</text><rect class="y" x="207.800"/><text x="216.500">1.45</text><rect class="a" x="225.200"/><text x="233.800">1.51</text></g>
<g transform="translate(0,362)"><rect class="r" x="0"/><text x="8.700">1.85</text><rect class="o" x="17.300"/><text x="26">1.95</text><rect class="r" x="34.600"/><text x="43.300">1.92</text><rect class="o" x="52"/><text x="60.600">1.93</text><rect class="o" x="225.200"/><text x="233.800">1.43</text></g>
<g transform="translate(0,369.24)"><rect class="r" x="0"/><text x="8.700">1.89</text><rect class="o" x="17.300"/><text x="26">1.92</text><rect class="r" x="34.600"/><text x="43.300">2.03</text><rect class="o" x="52"/><text x="60.600">1.89</text><rect class="o" x="225.200"/><text x="233.800">1.46</text><rect class="p" x="242.500"/><text x="251.100">1.50</text></g>
<g transform="translate(0,376.48)"><rect class="r" x="0"/><text x="8.700">1.85</text><rect class="o" x="17.300"/><text x="26">1.95</text><rect class="r" x="34.600"/><text x="43.300">1.84</text><rect class="o" x="52"/><text x="60.600">2.05</text><rect class="p" x="225.200"/><text x="233.800">1.28</text><rect class="o" x="242.500"/><text x="251.100">1.75</text></g>
<g transform="translate(0,383.72)"><rect class="o" x="0"/><text x="8.700">1.79</text><rect class="o" x="17.300"/><text x="26">1.89</text><rect class="a" x="34.600"/><text x="43.300">1.66</text><rect class="o" x="52"/><text x="60.600">1.92</text><rect class="a" x="242.500"/><text x="251.100">1.73</text></g>
<g transform="translate(0,390.96)"><rect class="o" x="0"/><text x="8.700">1.59</text><rect class="o" x="17.300"/><text x="26">1.77</text><rect class="r" x="34.600"/><text x="43.300">1.83</text><rect class="o" x="52"/><text x="60.600">1.96</text><rect class="a" x="242.500"/><text x="251.100">1.67</text></g>
<g transform="translate(0,398.2)"><rect class="a" x="0"/><text x="8.700">1.40</text><rect class="p" x="17.300"/><text x="26">1.35</text><rect class="y" x="34.600"/><text x="43.300">1.47</text><rect class="y" x="52"/><text x="60.600">1.48</text><rect class="a" x="242.500"/><text x="251.100">1.68</text></g>
<g transform="translate(0,405.44)"><rect class="r" x="0"/><text x="8.700">1.56</text><rect class="a" x="17.300"/><text x="26">1.61</text><rect class="y" x="34.600"/><text x="43.300">1.51</text><rect class="a" x="52"/><text x="60.600">1.53</text><rect class="a" x="242.500"/><text x="251.100">1.67</text></g>
<g transform="translate(0,412.68)"><rect class="r" x="0"/><text x="8.700">1.57</text><rect class="o" x="17.300"/><text x="26">1.84</text><rect class="r" x="34.600"/><text x="43.300">1.88</text><rect class="o" x="52"/><text x="60.600">1.91</text><rect class="a" x="259.800"/><text x="268.500">1.60</text></g>
<g transform="translate(0,419.92)"><rect class="y" x="0"/><text x="8.700">1.32</text><rect class="a" x="17.300"/><text x="26">1.65</text><rect class="p" x="34.600"/><text x="43.300">1.41</text><rect class="y" x="52"/><text x="60.600">1.64</text><rect class="y" x="225.200"/><text x="233.800">1.33</text><rect class="a" x="259.800"/><text x="268.500">1.58</text></g>
<g transform="translate(0,427.16)"><rect class="y" x="0"/><text x="8.700">1.44</text><rect class="a" x="17.300"/><text x="26">1.65</text><rect class="a" x="34.600"/><text x="43.300">1.60</text><rect class="y" x="52"/><text x="60.600">1.46</text><rect class="a" x="277.100"/><text x="285.800">1.77</text></g>
<g transform="translate(0,434.4)"><rect class="a" x="0"/><text x="8.700">1.51</text><rect class="a" x="17.300"/><text x="26">1.72</text><rect class="p" x="34.600"/><text x="43.300">1.37</text><rect class="a" x="52"/><text x="60.600">1.63</text></g>
<g transform="translate(0,441.64)"><rect class="r" x="0"/><text x="8.700">1.84</text><rect class="a" x="17.300"/><text x="26">1.54</text><rect class="a" x="34.600"/><text x="43.300">1.47</text><rect class="a" x="52"/><text x="60.600">1.52</text></g>
<g transform="translate(0,448.88)"><rect class="a" x="0"/><text x="8.700">1.45</text><rect class="a" x="17.300"/><text x="26">1.59</text><rect class="a" x="34.600"/><text x="43.300">1.63</text><rect class="o" x="52"/><text x="60.600">1.60</text></g>
<g transform="translate(0,456.12)"><rect class="p" x="0"/><text x="8.700">1.25</text><rect class="y" x="69.3"/><text x="78">1.44</text><rect class="a" x="155.900"/><text x="164.500">1.51</text><rect class="o" x="207.800"/><text x="216.500">1.50</text><rect class="y" x="225.200"/><text x="233.800">1.38</text></g>
<g transform="translate(0,463.36)"><rect class="r" x="0"/><text x="8.700">1.60</text><rect class="p" x="34.600"/><text x="43.300">1.41</text><rect class="p" x="52"/><text x="60.600">1.38</text><rect class="a" x="69.3"/><text x="78">1.48</text><rect class="a" x="155.900"/><text x="164.500">1.52</text><rect class="o" x="207.800"/><text x="216.500">1.48</text></g>
<g transform="translate(0,470.6)"><rect class="r" x="0"/><text x="8.700">1.53</text><rect class="y" x="17.300"/><text x="26">1.43</text><rect class="r" x="69.3"/><text x="78">1.82</text><rect class="a" x="86.6"/><text x="95.3">1.46</text><rect class="o" x="121.200"/><text x="129.900">1.70</text><rect class="a" x="138.600"/><text x="147.200">1.67</text><rect class="o" x="155.900"/><text x="164.500">1.80</text><rect class="o" x="207.800"/><text x="216.500">1.47</text><rect class="o" x="225.200"/><text x="233.800">1.56</text></g>
<g transform="translate(0,477.84)"><rect class="r" x="0"/><text x="8.700">1.53</text><rect class="o" x="17.300"/><text x="26">1.89</text><rect class="o" x="69.3"/><text x="78">1.83</text><rect class="a" x="138.600"/><text x="147.200">1.62</text><rect class="o" x="155.900"/><text x="164.500">1.69</text><rect class="o" x="207.800"/><text x="216.500">1.53</text><rect class="o" x="225.200"/><text x="233.800">1.64</text></g>
<g transform="translate(0,485.08)"><rect class="r" x="0"/><text x="8.700">1.73</text><rect class="o" x="17.300"/><text x="26">1.99</text><rect class="o" x="69.3"/><text x="78">1.66</text><rect class="a" x="138.600"/><text x="147.200">1.64</text><rect class="o" x="155.900"/><text x="164.500">1.80</text><rect class="o" x="207.800"/><text x="216.500">1.52</text><rect class="o" x="225.200"/><text x="233.800">1.66</text></g>
</g>
<g transform="translate(2763,1066.500)">
<text class="rl" y="0">Monocyte/Dendritic_donor1_Velten_et_al</text><text class="rl" y="7.24">pDC_precursor_Popescu_et_al</text><text class="rl" y="14.48">Early_lymphoid_T_lymphocyte_Popescu_et_al</text><text class="rl" y="21.72">LMPP_Drissen_et_al</text><text class="rl" y="28.96">small_pre_B1_donor1_Velten_et_al</text><text class="rl" y="36.2">B_Popescu_et_al</text><text class="rl" y="43.44">large_pre_B_donor2_Velten_et_al</text><text class="rl" y="50.68">pre_B_Popescu_et_al</text><text class="rl" y="57.92">pro_B_Popescu_et_al</text><text class="rl" y="65.16">Curated_Lymphoid</text><text class="rl" y="72.4">CLP_Chen_et_al</text><text class="rl" y="79.64">small_pre_B_donor2_Velten_et_al</text><text class="rl" y="86.88">Pre_pro_B_Popescu_et_al</text><text class="rl" y="94.12">small_pre_B2_donor1_Velten_et_al</text><text class="rl" y="101.36">Neutrophil_Progenitor3_donor1_Velten_et_al</text><text class="rl" y="108.6">DC_Popescu_et_al</text><text class="rl" y="115.84">DC_precursor_Popescu_et_al</text><text class="rl" y="123.08">GMP_Drissen_et_al</text><text class="rl" y="130.32">Neutrophil_Progenitor1_donor1_Velten_et_al</text><text class="rl" y="137.56">Neutrophil_Progenitor_donor2_Velten_et_al</text><text class="rl" y="144.8">Monocyte_precursor_Popescu_et_al</text><text class="rl" y="152.04">Monocyte_Popescu_et_al</text><text class="rl" y="159.28">Neutrophil_Progenitor2_donor1_Velten_et_al</text><text class="rl" y="166.52">CMP_CD114_Drissen_et_al</text><text class="rl" y="173.76">Neutrophil_Early_stage_donor1_Velten_et_al</text><text class="rl" y="181">GMP_Chen_et_al</text><text class="rl" y="188.24">Curated_Myeloid</text><text class="rl" y="195.48">Neutrophil_myeloid_progenitor_Popescu_et_al</text><text class="rl" y="202.72">HSC_Chen_et_al</text><text class="rl" y="209.96">HSC_MPP_Drissen_et_al</text><text class="rl" y="217.2">Curated_HSPC</text><text class="rl" y="224.44">Myeloid_Progenitor_donor2_Velten_et_al</text><text class="rl" y="231.68">HSC/MPP_Popescu_et_al</text><text class="rl" y="238.92">Myeloid_Progenitor1_donor1_Velten_et_al</text><text class="rl" y="246.16">Curated_Mk</text><text class="rl" y="253.4">MK_Chen_et_al</text><text class="rl" y="260.64">Hepatocyte_Popescu_et_al</text><text class="rl" y="267.88">VCAM1_EI_macrophage_Popescu_et_al</text><text class="rl" y="275.12">EBMP_donor1_Velten_et_al</text><text class="rl" y="282.36">Mast_Popescu_et_al</text><text class="rl" y="289.6">Endothelial_Popescu_et_al</text><text class="rl" y="296.84">Fibroblast_Popescu_et_al</text><text class="rl" y="304.08">DC1_Popescu_et_al</text><text class="rl" y="311.32">NK_Popescu_et_al</text><text class="rl" y="318.56">Mono/Mac_Popescu_et_al</text><text class="rl" y="325.8">ILC_precursor_Popescu_et_al</text><text class="rl" y="333.04">Kupffer_Popescu_et_al</text><text class="rl" y="340.28">MK_Popescu_et_al</text><text class="rl" y="347.52">Mk_Progenitor_donor1_Velten_et_al</text><text class="rl" y="354.76">MkE_Progenitor1_donor1_Velten_et_al</text><text class="rl" y="362">MkE_Progenitor2_donor1_Velten_et_al</text><text class="rl" y="369.24">MkE_Progenitor_donor2_Velten_et_al</text><text class="rl" y="376.48">Ery_Progenitor1_donor1_Velten_et_al</text><text class="rl" y="383.72">Ery_Progenitor2_donor1_Velten_et_al</text><text class="rl" y="390.96">MEP_Drissen_et_al</text><text class="rl" y="398.2">Late_Erythroid_Popescu_et_al</text><text class="rl" y="405.44">Mid_Erythroid_Popescu_et_al</text><text class="rl" y="412.68">CMP_CD131_Drissen_et_al</text><text class="rl" y="419.92">EBMP_donor2_Velten_et_al</text><text class="rl" y="427.16">MEMP_Popescu_et_al</text><text class="rl" y="434.4">Early_Erythroid_Popescu_et_al</text><text class="rl" y="441.64">Curated_Erythroid</text><text class="rl" y="448.88">MEP_Chen_et_al</text><text class="rl" y="456.12">Myeloid_Progenitor2_donor1_Velten_et_al</text><text class="rl" y="463.36">S_phase_Tirosh_et_al</text><text class="rl" y="470.6">Monocyte/Dendritic_Progenitor_donor2_Velten_et_al</text><text class="rl" y="477.84">G2M_Tirosh_et_al</text><text class="rl" y="485.08">G2M_phase_donor1_Velten_et_al</text>
</g>
<g>
<text class="cl" transform="translate(2385.700,1556) rotate(90)">cl.11</text><text class="cl" transform="translate(2403,1556) rotate(90)">cl.20</text><text class="cl" transform="translate(2420.300,1556) rotate(90)">cl.8</text><text class="cl" transform="translate(2437.700,1556) rotate(90)">cl.6</text><text class="cl" transform="translate(2455,1556) rotate(90)">cl.13</text><text class="cl" transform="translate(2472.300,1556) rotate(90)">cl.19</text><text class="cl" transform="translate(2489.600,1556) rotate(90)">cl.3</text><text class="cl" transform="translate(2506.900,1556) rotate(90)">cl.17</text><text class="cl" transform="translate(2524.300,1556) rotate(90)">cl.21</text><text class="cl" transform="translate(2541.600,1556) rotate(90)">cl.9</text><text class="cl" transform="translate(2558.900,1556) rotate(90)">cl.4</text><text class="cl" transform="translate(2576.200,1556) rotate(90)">cl.5</text><text class="cl" transform="translate(2593.500,1556) rotate(90)">cl.10</text><text class="cl" transform="translate(2610.900,1556) rotate(90)">cl.14</text><text class="cl" transform="translate(2628.200,1556) rotate(90)">cl.22</text><text class="cl" transform="translate(2645.500,1556) rotate(90)">cl.16</text><text class="cl" transform="translate(2662.800,1556) rotate(90)">cl.7</text><text class="cl" transform="translate(2680.100,1556) rotate(90)">cl.15</text><text class="cl" transform="translate(2697.500,1556) rotate(90)">cl.18</text><text class="cl" transform="translate(2714.800,1556) rotate(90)">cl.12</text><text class="cl" transform="translate(2732.100,1556) rotate(90)">cl.1</text><text class="cl" transform="translate(2749.400,1556) rotate(90)">cl.2</text>
</g>
<rect x="2962" y="1060" width="9" height="117" fill="url(#hc)"/>
<g class="cb"><text class="cl" x="2974" y="1069">3</text><text class="cl" x="2974" y="1087">2.5</text><text class="cl" x="2974" y="1106">2</text><text class="cl" x="2974" y="1124">1.5</text><text class="cl" x="2974" y="1142">1</text><text class="cl" x="2974" y="1160">0.5</text><text class="cl" x="2974" y="1179">0</text></g>
<text class="cap" x="2454" y="1597">Cell type annotation scoring system</text>
</g>
</svg>
